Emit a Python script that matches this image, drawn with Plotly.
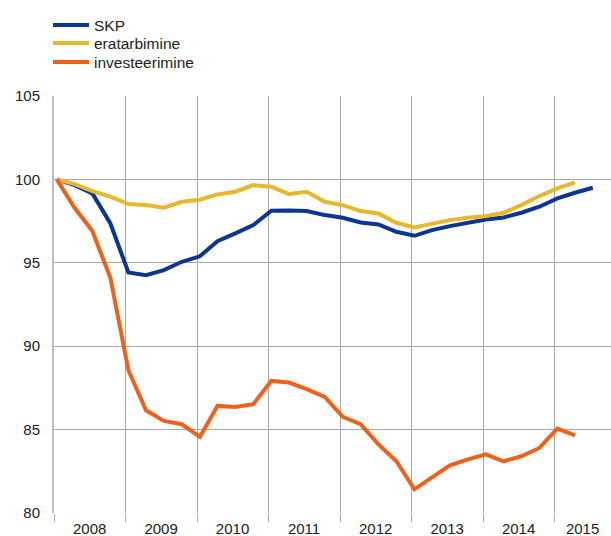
import plotly.graph_objects as go

# quarterly observation dates (mid-month of each quarter start)
quarters = [f"{2008 + k // 4}-{1 + 3 * (k % 4):02d}-15" for k in range(31)]

skp = [100.0, 99.66, 99.16, 97.36, 94.42, 94.26, 94.56, 95.06, 95.39,
       96.3, 96.76, 97.26, 98.12, 98.14, 98.1, 97.86, 97.7, 97.42, 97.3,
       96.86, 96.62, 96.96, 97.2, 97.4, 97.6, 97.72, 98.0, 98.36, 98.86,
       99.2, 99.5]
eratarbimine = [100.0, 99.72, 99.3, 98.96, 98.52, 98.46, 98.3, 98.66, 98.78,
                99.1, 99.26, 99.66, 99.56, 99.12, 99.26, 98.66, 98.46, 98.1,
                97.96, 97.4, 97.12, 97.32, 97.56, 97.7, 97.8, 98.0, 98.46,
                99.0, 99.46, 99.82]
investeerimine = [100.0, 98.3, 96.9, 94.1, 88.56, 86.16, 85.52, 85.32, 84.56,
                  86.42, 86.36, 86.52, 87.92, 87.82, 87.42, 86.96, 85.76,
                  85.32, 84.12, 83.1, 81.42, 82.16, 82.86, 83.22, 83.52, 83.1,
                  83.4, 83.9, 85.06, 84.66]

years = [2008, 2009, 2010, 2011, 2012, 2013, 2014, 2015]
year_label_pos = [f"{y}-07-01" for y in years[:-1]] + ["2015-05-24"]
year_bounds = [f"{y}-01-01" for y in years]

series = [
    ("SKP", skp, "#0A3595", "legend"),
    ("eratarbimine", eratarbimine, "#E8B82C", "legend2"),
    ("investeerimine", investeerimine, "#EE611A", "legend3"),
]

fig = go.Figure()
for name, vals, color, leg in series:
    fig.add_trace(go.Scatter(
        x=quarters[:len(vals)], y=vals, name=name, mode="lines",
        line=dict(color=color, width=4), legend=leg,
    ))

W, H = 611, 536
ML, MR, MT, MB = 54, 0, 96, 23
plot_h = H - MT - MB
plot_w = W - ML - MR


def leg_pos(top_px, left_px):
    return dict(
        x=(left_px - ML) / plot_w, y=(H - MB - top_px) / plot_h,
        xanchor="left", yanchor="top", bgcolor="rgba(0,0,0,0)",
        font=dict(size=15.5), itemwidth=36, borderwidth=0,
    )


grid = "#A8A8A8"
fig.update_layout(
    width=W, height=H,
    margin=dict(l=ML, r=MR, t=MT, b=MB),
    paper_bgcolor="white", plot_bgcolor="white",
    font=dict(family="Liberation Sans, Arial, sans-serif", size=15, color="#222222"),
    showlegend=True,
    legend=leg_pos(8.5, 48),
    legend2=leg_pos(26.5, 48),
    legend3=leg_pos(45.5, 48),
    xaxis=dict(
        type="date",
        range=["2008-01-01", "2015-10-16"],
        tickmode="array", tickvals=year_label_pos,
        ticktext=[str(y) for y in years],
        ticks="", showgrid=False, ticklabelstandoff=5,
        showline=False, zeroline=False,
        minor=dict(
            tickmode="array", tickvals=year_bounds,
            showgrid=True, gridcolor=grid, gridwidth=1,
            ticks="outside", ticklen=8, tickcolor=grid, tickwidth=1,
        ),
        automargin=False,
    ),
    yaxis=dict(
        range=[80, 105], tickmode="linear", tick0=80, dtick=5,
        showgrid=True, gridcolor=grid, gridwidth=1,
        showline=True, linecolor="#BDBDBD", linewidth=2,
        ticks="", ticklabelstandoff=9, zeroline=False,
        automargin=False,
    ),
)

fig.write_html("out.html", config={"displayModeBar": False},
               post_script="document.body.style.margin='0';")
